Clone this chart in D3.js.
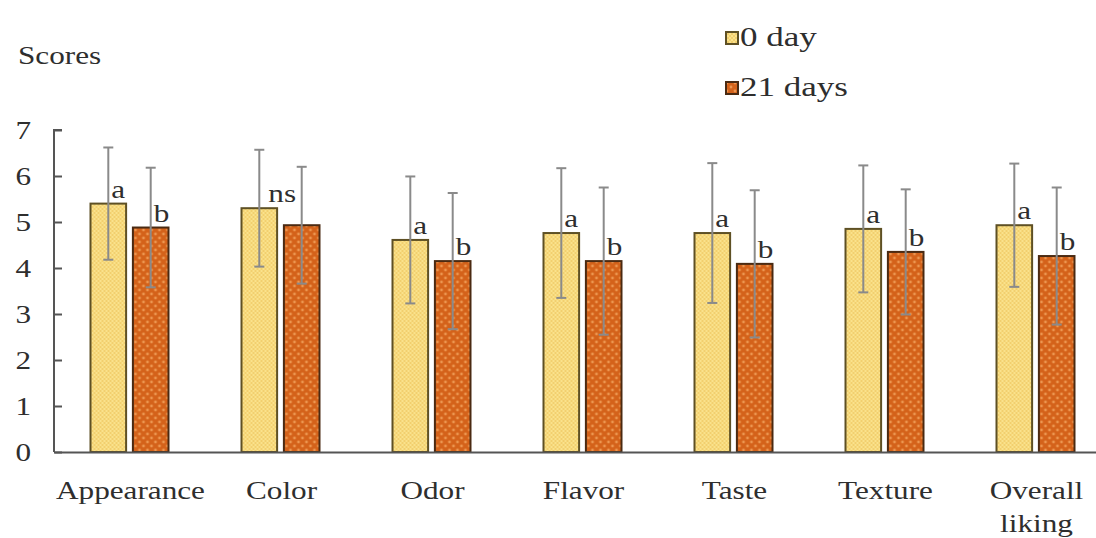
<!DOCTYPE html>
<html>
<head>
<meta charset="utf-8">
<script src="https://cdn.jsdelivr.net/npm/d3@7"></script>
<style>
  html, body { margin: 0; padding: 0; background: #fff; }
  svg { display: block; }
</style>
</head>
<body>
<script>
// Sensory scores (mean ± SD) at day 0 and after 21 days of storage
const categories = ["Appearance", "Color", "Odor", "Flavor", "Taste", "Texture", "Overall liking"];
const seriesNames = ["0 day", "21 days"];
const mean0  = [5.40, 5.30, 4.61, 4.76, 4.76, 4.85, 4.93];
const sd0    = [1.22, 1.27, 1.38, 1.41, 1.52, 1.38, 1.34];
const mean21 = [4.88, 4.93, 4.15, 4.15, 4.09, 4.35, 4.26];
const sd21   = [1.30, 1.27, 1.48, 1.60, 1.60, 1.36, 1.49];
const letters0  = ["a", "ns", "a", "a", "a", "a", "a"];
const letters21 = ["b", "", "b", "b", "b", "b", "b"];
const yTicks = [0, 1, 2, 3, 4, 5, 6, 7];

const W = 1096, H = 538;
const SX = 1.2; // horizontal text stretch
const FONT = "'Liberation Serif', 'Times New Roman', Times, serif";
const INK = "#2e2e2e";

const svg = d3.select("body").append("svg").attr("width", W).attr("height", H)
  .attr("font-family", FONT);
const defs = svg.append("defs");

// light yellow fine checker
const p0 = defs.append("pattern").attr("id", "pat0").attr("patternUnits", "userSpaceOnUse")
  .attr("width", 4).attr("height", 4);
p0.append("rect").attr("width", 4).attr("height", 4).attr("fill", "#fae28c");
p0.append("rect").attr("width", 2).attr("height", 2).attr("fill", "#f2cf6e");
p0.append("rect").attr("x", 2).attr("y", 2).attr("width", 2).attr("height", 2).attr("fill", "#f2cf6e");

// orange with light dots
const p1 = defs.append("pattern").attr("id", "pat1").attr("patternUnits", "userSpaceOnUse")
  .attr("width", 8).attr("height", 8);
p1.append("rect").attr("width", 8).attr("height", 8).attr("fill", "#d4621a");
p1.append("circle").attr("cx", 2).attr("cy", 2).attr("r", 1.4).attr("fill", "#ec9650");
p1.append("circle").attr("cx", 6).attr("cy", 6).attr("r", 1.4).attr("fill", "#ec9650");

const fills = ["url(#pat0)", "url(#pat1)"];
const strokes = ["#5e5024", "#4a2a12"];

const x = d3.scaleBand().domain(categories).range([54, 1111]);
const xi = d3.scaleBand().domain(seriesNames).range([-39, 39]).paddingInner(0.16);
const y = d3.scaleLinear().domain([0, 7]).range([452, 130]);

const rows = categories.map((c, i) => ({
  cat: c,
  vals: [
    { s: seriesNames[0], m: mean0[i], sd: sd0[i], lab: letters0[i], k: 0 },
    { s: seriesNames[1], m: mean21[i], sd: sd21[i], lab: letters21[i], k: 1 }
  ]
}));

const groups = svg.append("g").selectAll("g").data(rows).join("g")
  .attr("transform", d => `translate(${x(d.cat) + x.bandwidth() / 2},0)`);

const items = groups.selectAll("g.item").data(d => d.vals).join("g").attr("class", "item");

items.append("rect")
  .attr("x", d => xi(d.s))
  .attr("y", d => y(d.m))
  .attr("width", xi.bandwidth())
  .attr("height", d => y(0) - y(d.m))
  .attr("fill", d => fills[d.k])
  .attr("stroke", d => strokes[d.k])
  .attr("stroke-width", 2);

// error bars
const eb = items.append("g").attr("stroke", "#8a8a8a").attr("stroke-width", 2);
const cx = d => xi(d.s) + xi.bandwidth() / 2;
eb.append("line")
  .attr("x1", cx).attr("x2", cx)
  .attr("y1", d => y(d.m + d.sd)).attr("y2", d => y(d.m - d.sd));
eb.append("line")
  .attr("x1", d => cx(d) - 5).attr("x2", d => cx(d) + 5)
  .attr("y1", d => y(d.m + d.sd)).attr("y2", d => y(d.m + d.sd));
eb.append("line")
  .attr("x1", d => cx(d) - 5).attr("x2", d => cx(d) + 5)
  .attr("y1", d => y(d.m - d.sd)).attr("y2", d => y(d.m - d.sd));

// significance letters
items.filter(d => d.lab).append("text")
  .attr("transform", d => `translate(${cx(d) + (d.lab === "ns" ? 9 : 3)},${y(d.m) - 6}) scale(${SX},1)`)
  .attr("font-size", 26)
  .attr("fill", INK)
  .text(d => d.lab);

// axes
const axisY = svg.append("g").attr("transform", "translate(54,0)")
  .call(d3.axisRight(y).tickValues(yTicks).tickSize(8).tickFormat(() => ""));
axisY.select(".domain").attr("stroke", "#555").attr("stroke-width", 2)
  .attr("d", `M8,${y(7)}H0V${y(0)}`);
axisY.selectAll(".tick line").attr("stroke", "#555").attr("stroke-width", 2);

svg.append("g").selectAll("text").data(yTicks).join("text")
  .attr("transform", d => `translate(31,${y(d) + 9}) scale(${SX},1)`)
  .attr("text-anchor", "end")
  .attr("font-size", 26)
  .attr("fill", INK)
  .text(d => d);

const axisX = svg.append("g").attr("transform", `translate(0,${y(0)})`)
  .call(d3.axisBottom(x).tickSize(0).tickFormat(() => ""));
axisX.select(".domain").attr("stroke", "#555").attr("stroke-width", 2);

// category labels (multi-word labels wrap)
const labelLines = c => c === "Overall liking" ? ["Overall", "liking"] : [c];
svg.append("g").selectAll("g").data(categories).join("g")
  .attr("transform", d => `translate(${x(d) + x.bandwidth() / 2 + 1},499) scale(${SX},1)`)
  .each(function (d) {
    d3.select(this).selectAll("text").data(labelLines(d)).join("text")
      .attr("y", (t, i) => i * 33)
      .attr("text-anchor", "middle")
      .attr("font-size", 26)
      .attr("fill", INK)
      .text(t => t);
  });

// axis title
svg.append("text")
  .attr("transform", `translate(18,64) scale(${SX},1)`)
  .attr("font-size", 26)
  .attr("fill", INK)
  .text("Scores");

// legend
const leg = svg.append("g").selectAll("g").data(seriesNames).join("g")
  .attr("transform", (d, i) => `translate(725,${31 + i * 50})`);
leg.append("rect")
  .attr("x", 1).attr("y", 1).attr("width", 12).attr("height", 12)
  .attr("fill", (d, i) => fills[i])
  .attr("stroke", (d, i) => strokes[i]).attr("stroke-width", 2);
leg.append("text")
  .attr("transform", `translate(15,15) scale(1.25,1)`)
  .attr("font-size", 28)
  .attr("fill", INK)
  .text(d => d);
</script>
</body>
</html>
